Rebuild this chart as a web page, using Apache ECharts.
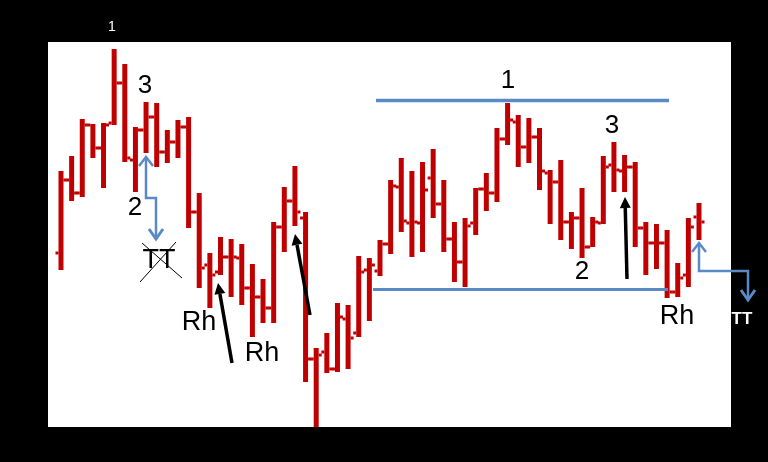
<!DOCTYPE html>
<html>
<head>
<meta charset="utf-8">
<script src="https://cdn.jsdelivr.net/npm/echarts@6/dist/echarts.min.js"></script>
<style>
html,body{margin:0;padding:0;background:#000;}
#c{width:768px;height:462px;}
</style>
</head>
<body>
<div id="c"></div>
<script>
// Bar index labels
const categories = Array.from({length: 61}, (_, i) => String(i + 1));
// OHLC values (arbitrary price units)
const openV  = [175,248,235,303,280,305,345,268,298,311,276,286,301,216,163,156,171,170,140,131,120,201,227,210,69,76,59,109,95,158,157,184,241,205,205,250,224,189,166,205,239,235,289,306,281,291,255,246,206,210,181,205,263,257,261,200,185,185,136,153,211];
const closeV = [248,235,303,280,303,345,270,298,311,276,286,301,216,160,153,171,171,140,131,120,201,227,216,69,73,59,111,90,156,163,184,242,207,206,238,224,189,166,202,239,235,289,308,281,291,257,246,206,210,181,206,261,258,261,200,185,185,136,150,201,206];
const lowV   = [158,227,231,270,240,303,266,236,275,261,265,270,200,140,120,153,131,123,91,105,105,176,202,46,1,55,56,59,91,107,152,174,196,171,176,210,176,146,141,193,217,226,283,261,265,238,204,188,179,170,181,204,236,236,181,153,159,130,131,141,188];
const highV  = [257,272,309,304,305,379,364,301,326,325,298,308,311,235,175,191,189,184,164,149,206,241,262,216,80,95,125,123,172,170,188,248,270,257,266,279,248,206,210,240,255,300,325,313,310,300,258,268,216,240,211,272,286,273,266,206,204,198,165,210,225];

const data = categories.map((c, i) => [i, openV[i], closeV[i], lowV[i], highV[i]]);
const RED = '#c00000';
const BLUE = '#5a8ac6';
const FONT = '"Liberation Sans", Arial, sans-serif';

function txt(x, y, s, size, color) {
  return {type: 'text', z: 100, x: x, y: y,
    style: {text: s, fill: color || '#000', font: size + 'px ' + FONT, textAlign: 'center', textVerticalAlign: 'middle'}};
}
function blackArrow(x1, y1, x2, y2) {
  const dx = x2 - x1, dy = y2 - y1, len = Math.sqrt(dx*dx + dy*dy);
  const ux = dx/len, uy = dy/len, hl = 11, hw = 5.5;
  const bx = x2 - ux*hl, by = y2 - uy*hl;
  return [
    {type: 'line', z: 100, shape: {x1: x1, y1: y1, x2: bx, y2: by}, style: {stroke: '#000', lineWidth: 3.5}},
    {type: 'polygon', z: 100, shape: {points: [[x2, y2], [bx - uy*hw, by + ux*hw], [bx + uy*hw, by - ux*hw]]}, style: {fill: '#000'}}
  ];
}
function blueArrow(pts, upHead, downHead) {
  const els = [{type: 'polyline', z: 100, shape: {points: pts}, style: {stroke: BLUE, lineWidth: 2.5, fill: null}}];
  if (upHead) els.push({type: 'polyline', z: 100, shape: {points: [[upHead[0]-7, upHead[1]+9], upHead, [upHead[0]+7, upHead[1]+9]]}, style: {stroke: BLUE, lineWidth: 2.5, fill: null}});
  if (downHead) els.push({type: 'polyline', z: 100, shape: {points: [[downHead[0]-7, downHead[1]-10], downHead, [downHead[0]+7, downHead[1]-10]]}, style: {stroke: BLUE, lineWidth: 3, fill: null}});
  return els;
}

const chart = echarts.init(document.getElementById('c'), null, {renderer: 'canvas'});
const graphics = [
  {type: 'rect', z: 0, shape: {x: 48, y: 42, width: 683, height: 385}, style: {fill: '#fff'}},
  // blue horizontal lines
  {type: 'line', z: 100, shape: {x1: 376, y1: 100.5, x2: 669, y2: 100.5}, style: {stroke: BLUE, lineWidth: 3.5}},
  {type: 'line', z: 100, shape: {x1: 373, y1: 289.5, x2: 668, y2: 289.5}, style: {stroke: BLUE, lineWidth: 3}},
  txt(112, 27, '1', 14, '#fff'),
  txt(145, 86, '3', 26),
  txt(135, 208, '2', 26),
  txt(159, 261, 'TT', 27),
  {type: 'line', z: 100, shape: {x1: 142, y1: 243, x2: 182, y2: 278}, style: {stroke: '#000', lineWidth: 1}},
  {type: 'line', z: 100, shape: {x1: 140, y1: 282, x2: 176, y2: 242}, style: {stroke: '#000', lineWidth: 1}},
  txt(199, 323, 'Rh', 27),
  txt(262, 354, 'Rh', 27),
  txt(508, 81, '1', 26),
  txt(612, 126, '3', 26),
  txt(582, 272, '2', 26),
  txt(677, 317, 'Rh', 27),
  {type: 'text', z: 100, x: 742, y: 319, style: {text: 'TT', fill: '#fff', font: 'bold 17px ' + FONT, textAlign: 'center', textVerticalAlign: 'middle'}}
].concat(
  blackArrow(232, 363, 218, 283),
  blackArrow(310, 315, 295, 234),
  blackArrow(627, 279, 625, 197),
  blueArrow([[146, 158], [146, 198], [156, 198], [156, 238]], [146, 157], [156, 239]),
  blueArrow([[699, 244], [699, 271], [748, 271], [748, 299]], [699, 243], [748, 300])
);

chart.setOption({
  backgroundColor: '#000',
  animation: false,
  grid: {left: 55.68, right: 63.68, top: 42, bottom: 34},
  xAxis: {type: 'category', data: categories, boundaryGap: true, show: false},
  yAxis: {type: 'value', min: 0, max: 386, show: false},
  graphic: graphics,
  series: [{
    type: 'custom',
    data: data,
    encode: {x: 0, y: [1, 2, 3, 4]},
    renderItem: function (params, api) {
      const i = api.value(0);
      const o = api.coord([i, api.value(1)]);
      const c = api.coord([i, api.value(2)]);
      const l = api.coord([i, api.value(3)]);
      const h = api.coord([i, api.value(4)]);
      return {type: 'group', children: [
        {type: 'rect', shape: {x: h[0] - 2.5, y: h[1], width: 5, height: l[1] - h[1]}, style: {fill: RED}},
        {type: 'rect', shape: {x: o[0] - 5.5, y: o[1] - 1.5, width: 3, height: 3}, style: {fill: RED}},
        {type: 'rect', shape: {x: c[0] + 2.5, y: c[1] - 1.5, width: 3, height: 3}, style: {fill: RED}}
      ]};
    }
  }]
});
</script>
</body>
</html>
